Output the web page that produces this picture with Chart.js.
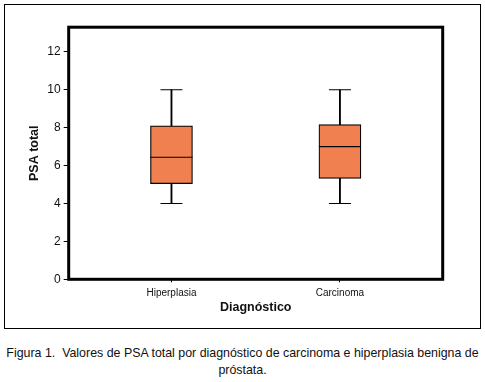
<!DOCTYPE html>
<html lang="pt">
<head>
  <meta charset="UTF-8" />
  <title>PSA total por diagnóstico</title>
  <script src="https://cdn.jsdelivr.net/npm/chart.js"></script>
  <style>
    body { margin: 0; background: #fff; width: 485px; height: 382px; position: relative; overflow: hidden; }
    #frame {
      position: absolute; left: 4px; top: 4px; width: 477px; height: 325px;
      border: 1px solid #000; box-sizing: border-box;
    }
    #caption {
      position: absolute; left: 0; top: 345px; width: 485px;
      text-align: center; font-family: "Liberation Sans", Arial, sans-serif;
      font-size: 12.4px; line-height: 17px; color: #111;
    }
  </style>
</head>
<body>
  <div id="frame"><canvas id="chart"></canvas></div>
  <div id="caption">Figura 1.&nbsp; Valores de PSA total por diagnóstico de carcinoma e hiperplasia benigna de<br>próstata.</div>
  <script>
    // valores
    const categories = ["Hiperplasia", "Carcinoma"];
    const whiskerLow = [4.0, 4.0];
    const q1 = [5.05, 5.32];
    const median = [6.44, 7.0];
    const q3 = [8.1, 8.16];
    const whiskerHigh = [10.0, 10.0];
    const yTicks = [0, 2, 4, 6, 8, 10, 12];

    const xs = categories.map((c, i) => i + 1);
    const sans = (size, weight) => ({ family: '"Liberation Sans", Arial, sans-serif', size, weight });

    const frameBox = {
      id: "frameBox",
      afterDraw(chart) {
        const a = chart.chartArea, ctx = chart.ctx;
        ctx.save();
        ctx.lineWidth = 3;
        ctx.strokeStyle = "#000";
        ctx.strokeRect(a.left, a.top, a.right - a.left, a.bottom - a.top);
        ctx.restore();
      }
    };

    const marker = (vals, r) => ({
      type: "line",
      data: xs.map((x, i) => ({ x, y: vals[i] })),
      showLine: false,
      pointStyle: "line",
      pointRadius: r,
      pointBorderWidth: 1.2,
      pointBorderColor: "#000",
      borderColor: "#000",
      order: 0
    });

    new Chart(document.getElementById("chart"), {
      type: "bar",
      data: {
        datasets: [
          marker(median, 21),
          marker(whiskerLow, 11),
          marker(whiskerHigh, 11),
          {
            type: "bar",
            data: xs.map((x, i) => ({ x, y: [q1[i], q3[i]] })),
            backgroundColor: "#f0804f",
            borderColor: "#000",
            borderWidth: 1.2,
            borderSkipped: false,
            barThickness: 42,
            grouped: false,
            order: 1
          },
          {
            type: "bar",
            data: xs.map((x, i) => ({ x, y: [whiskerLow[i], whiskerHigh[i]] })),
            backgroundColor: "#000",
            borderWidth: 0,
            barThickness: 1.2,
            grouped: false,
            order: 2
          }
        ]
      },
      options: {
        responsive: true,
        maintainAspectRatio: false,
        animation: false,
        layout: { padding: { left: 0, top: 21.7, right: 37.3, bottom: 0 } },
        plugins: { legend: { display: false }, tooltip: { enabled: false } },
        scales: {
          x: {
            type: "linear",
            offset: false,
            min: 0.39,
            max: 2.61,
            afterBuildTicks: s => { s.ticks = xs.map(v => ({ value: v })); },
            afterFit: s => { s.height = 48.7; },
            grid: { drawOnChartArea: false, drawTicks: true, tickLength: 3, color: "#000", offset: false },
            border: { display: false },
            ticks: {
              color: "#111",
              padding: 5,
              font: sans(10),
              callback: v => categories[v - 1]
            },
            title: {
              display: true,
              text: "Diagnóstico",
              color: "#111",
              padding: { top: 0, bottom: 12.8 },
              font: sans(12.5, "bold")
            }
          },
          y: {
            type: "linear",
            min: 0,
            max: 13.3,
            afterBuildTicks: s => { s.ticks = yTicks.map(v => ({ value: v })); },
            afterFit: s => { s.width = 63.7; },
            grid: { drawOnChartArea: false, drawTicks: true, tickLength: 5, color: "#000" },
            border: { display: false },
            ticks: {
              color: "#111",
              padding: 3,
              font: sans(12)
            },
            title: {
              display: true,
              text: "PSA total",
              color: "#111",
              padding: { top: 22.5, bottom: 0 },
              font: sans(12.5, "bold")
            }
          }
        }
      },
      plugins: [frameBox]
    });
  </script>
</body>
</html>
